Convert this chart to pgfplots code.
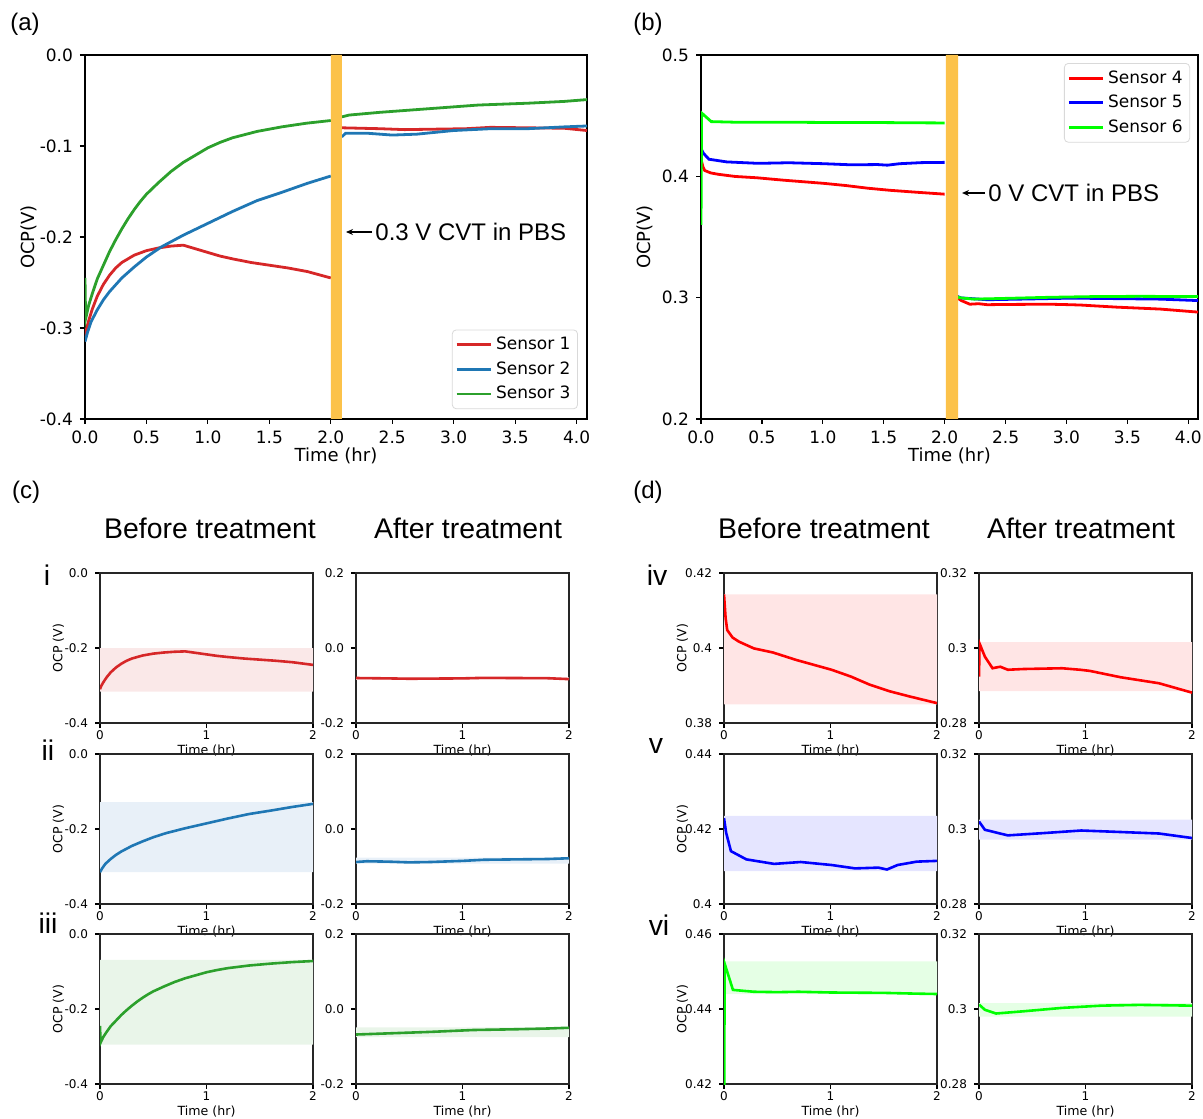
\documentclass[border=0pt]{standalone}
\usepackage{fontspec}
\setmainfont{DejaVu Sans}
\newfontfamily\arial{Liberation Sans}
\usepackage{pgfplots}
\pgfplotsset{compat=1.18}
\usetikzlibrary{arrows.meta}

\definecolor{tabred}{HTML}{D62728}
\definecolor{tabblue}{HTML}{1F77B4}
\definecolor{tabgreen}{HTML}{2CA02C}
\definecolor{pred}{HTML}{FF0000}
\definecolor{pblue}{HTML}{0000FF}
\definecolor{pgreen}{HTML}{00FF00}
\definecolor{cvt}{RGB}{252,194,74}
\definecolor{fred}{RGB}{250,232,232}
\definecolor{fblue}{RGB}{232,240,248}
\definecolor{fgreen}{RGB}{233,245,233}
\definecolor{fpred}{RGB}{255,229,229}
\definecolor{fpblue}{RGB}{229,229,255}
\definecolor{fpgreen}{RGB}{229,255,229}

\pgfplotsset{
  mpl/.style={scale only axis, anchor=north west, clip=true,
    axis line style={black, line width=0.9pt},
    tick align=outside, xtick pos=bottom, ytick pos=left,
    major tick length=2.5pt, tick style={black, line width=0.6pt},
    /pgf/number format/assume math mode=true},
  big/.style={mpl, width=251pt, height=182pt, xmin=0,
    xtick={0,0.5,1,1.5,2,2.5,3,3.5,4},
    tick label style={font=\fontsize{8.5}{10}\selectfont},
    label style={font=\fontsize{9}{11}\selectfont},
    xticklabel style={/pgf/number format/fixed, /pgf/number format/fixed zerofill, /pgf/number format/precision=1},
    yticklabel style={/pgf/number format/fixed, /pgf/number format/fixed zerofill, /pgf/number format/precision=1},
    xlabel={Time (hr)}, ylabel={OCP(V)},
    xlabel style={at={(axis description cs:0.5,-0.102)}, anchor=center},
    ylabel style={at={(axis description cs:-0.112,0.5)}, anchor=center},
    legend cell align=left,
    legend image code/.code={\draw[#1, line width=1.4pt] (0pt,0pt) -- (17pt,0pt);},
    every axis plot/.append style={line width=1.4pt}},
  sm/.style={mpl, width=106.5pt, height=75pt, xmin=0, xmax=2, xtick={0,1,2},
    axis line style={black!85, line width=0.8pt},
    tick label style={font=\fontsize{6}{7}\selectfont},
    xticklabel style={inner sep=1pt},
    label style={font=\fontsize{6.3}{7.5}\selectfont},
    xlabel={Time (hr)},
    xlabel style={at={(axis description cs:0.5,-0.185)}, anchor=center, inner sep=1pt},
    ylabel style={at={(axis description cs:-0.195,0.5)}, anchor=center},
    every axis plot/.append style={line width=1.3pt}},
  one/.style={yticklabel style={/pgf/number format/fixed, /pgf/number format/fixed zerofill, /pgf/number format/precision=1}},
  two/.style={yticklabel style={/pgf/number format/fixed, /pgf/number format/precision=2}},
}

\begin{document}
\begin{tikzpicture}
\path[use as bounding box] (0pt,0pt) rectangle (601.5pt,-559pt);

% ---------- (a)
\begin{axis}[big, at={(42.5pt,-27.5pt)}, xmax=4.085, ymin=-0.4, ymax=0,
  ytick={-0.4,-0.3,-0.2,-0.1,0},
  legend style={at={(0.982,0.027)}, anchor=south east, draw=black!15, rounded corners=2pt,
    font=\fontsize{8.5}{10}\selectfont, row sep=0.5pt, inner sep=1.5pt}]
\addplot[tabred] coordinates {(0,-0.31)(0.01,-0.302)(0.03,-0.292)(0.06,-0.279)(0.1,-0.265)(0.15,-0.252)(0.2,-0.242)(0.25,-0.234)(0.3,-0.228)(0.4,-0.220)(0.5,-0.215)(0.6,-0.212)(0.7,-0.210)(0.8,-0.209)(0.9,-0.213)(1.0,-0.217)(1.1,-0.221)(1.2,-0.224)(1.35,-0.228)(1.5,-0.231)(1.65,-0.234)(1.81,-0.238)(2.0,-0.245)};
\addlegendentry{Sensor 1}
\addplot[tabblue] coordinates {(0,-0.315)(0.02,-0.305)(0.05,-0.293)(0.1,-0.28)(0.15,-0.269)(0.2,-0.26)(0.3,-0.245)(0.4,-0.233)(0.5,-0.222)(0.62,-0.211)(0.8,-0.198)(1.0,-0.185)(1.2,-0.172)(1.4,-0.16)(1.6,-0.151)(1.81,-0.141)(2.0,-0.133)};
\addlegendentry{Sensor 2}
\addplot[tabgreen] coordinates {(0,-0.245)(0.005,-0.29)(0.03,-0.275)(0.06,-0.262)(0.1,-0.246)(0.15,-0.231)(0.2,-0.216)(0.25,-0.203)(0.3,-0.191)(0.35,-0.180)(0.4,-0.170)(0.45,-0.161)(0.5,-0.153)(0.6,-0.140)(0.7,-0.128)(0.8,-0.118)(0.9,-0.110)(1.0,-0.102)(1.1,-0.096)(1.2,-0.091)(1.4,-0.084)(1.6,-0.079)(1.8,-0.075)(2.0,-0.072)};
\addlegendentry{Sensor 3}
\addplot[tabred, forget plot] coordinates {(2.09,-0.080)(2.4,-0.081)(2.6,-0.082)(3.1,-0.081)(3.3,-0.0795)(3.6,-0.080)(3.9,-0.0805)(4.085,-0.083)};
\addplot[tabblue, forget plot] coordinates {(2.09,-0.09)(2.12,-0.086)(2.3,-0.086)(2.5,-0.088)(2.7,-0.087)(3.0,-0.083)(3.3,-0.081)(3.6,-0.081)(3.9,-0.079)(4.085,-0.078)};
\addplot[tabgreen, forget plot] coordinates {(2.09,-0.068)(2.15,-0.066)(2.4,-0.063)(2.8,-0.059)(3.2,-0.055)(3.6,-0.053)(3.9,-0.051)(4.085,-0.049)};
\addplot[fill=cvt, draw=none, forget plot] coordinates {(2.0,-0.4)(2.09,-0.4)(2.09,0)(2.0,0)(2.0,-0.4)};
\end{axis}

% ---------- (b)
\begin{axis}[big, at={(350.5pt,-27.5pt)}, width=248.5pt, xmax=4.08, ymin=0.2, ymax=0.5,
  ytick={0.2,0.3,0.4,0.5},
  legend style={at={(0.984,0.978)}, anchor=north east, draw=black!15, rounded corners=2pt,
    font=\fontsize{8.5}{10}\selectfont, row sep=0.5pt, inner sep=1.5pt}]
\addplot[pred] coordinates {(0,0.4143)(0.015,0.408)(0.03,0.4048)(0.08,0.4028)(0.14,0.4017)(0.28,0.3999)(0.46,0.3988)(0.68,0.3968)(1.01,0.3942)(1.19,0.3924)(1.37,0.3902)(1.55,0.3885)(1.74,0.3871)(2.0,0.3853)};
\addlegendentry{Sensor 4}
\addplot[pblue] coordinates {(0,0.4229)(0.02,0.419)(0.065,0.4141)(0.21,0.4119)(0.47,0.4107)(0.72,0.4112)(1.01,0.4104)(1.23,0.4095)(1.45,0.4097)(1.53,0.4092)(1.63,0.4104)(1.81,0.4113)(2.0,0.4115)};
\addlegendentry{Sensor 5}
\addplot[pgreen] coordinates {(0,0.36)(0.005,0.4522)(0.084,0.4451)(0.28,0.4446)(0.5,0.4445)(0.7,0.4446)(1.01,0.4444)(1.5,0.4443)(1.8,0.4441)(2.0,0.444)};
\addlegendentry{Sensor 6}
\addplot[pred, forget plot] coordinates {(2.08,0.2924)(2.085,0.3012)(2.135,0.2977)(2.207,0.2946)(2.24,0.2948)(2.28,0.295)(2.35,0.2942)(2.5,0.2944)(2.86,0.2946)(3.03,0.2942)(3.12,0.2939)(3.41,0.2922)(3.77,0.2906)(4.08,0.2881)};
\addplot[pblue, forget plot] coordinates {(2.08,0.302)(2.135,0.2998)(2.35,0.2983)(2.68,0.2989)(3.04,0.2996)(3.41,0.2992)(3.77,0.2988)(4.08,0.2976)};
\addplot[pgreen, forget plot] coordinates {(2.08,0.3012)(2.135,0.2998)(2.24,0.2988)(2.5,0.2994)(2.86,0.3003)(3.23,0.3009)(3.59,0.3011)(4.08,0.3009)};
\addplot[fill=cvt, draw=none, forget plot] coordinates {(2.01,0.2)(2.11,0.2)(2.11,0.5)(2.01,0.5)(2.01,0.2)};
\end{axis}

% ---------- (c) i
\begin{axis}[sm, one, at={(50pt,-286.5pt)}, ymin=-0.4, ymax=0, ytick={-0.4,-0.2,0}, ylabel={OCP (V)}]
\addplot[fill=fred, draw=none] coordinates {(0,-0.316)(2,-0.316)(2,-0.2)(0,-0.2)(0,-0.316)};
\addplot[tabred] coordinates {(0,-0.31)(0.01,-0.302)(0.03,-0.292)(0.06,-0.279)(0.1,-0.265)(0.15,-0.252)(0.2,-0.242)(0.25,-0.234)(0.3,-0.228)(0.4,-0.220)(0.5,-0.215)(0.6,-0.212)(0.7,-0.210)(0.8,-0.209)(0.9,-0.213)(1.0,-0.217)(1.1,-0.221)(1.2,-0.224)(1.35,-0.228)(1.5,-0.231)(1.65,-0.234)(1.81,-0.238)(2.0,-0.245)};
\end{axis}
\begin{axis}[sm, one, at={(178pt,-286.5pt)}, ymin=-0.2, ymax=0.2, ytick={-0.2,0,0.2}]
\addplot[fill=fred, draw=none] coordinates {(0,-0.085)(2,-0.085)(2,-0.078)(0,-0.078)(0,-0.085)};
\addplot[tabred] coordinates {(0,-0.080)(0.3,-0.081)(0.5,-0.082)(1.0,-0.081)(1.2,-0.0795)(1.5,-0.080)(1.8,-0.0805)(2.0,-0.083)};
\end{axis}
% ---------- (c) ii
\begin{axis}[sm, one, at={(50pt,-377pt)}, ymin=-0.4, ymax=0, ytick={-0.4,-0.2,0}, ylabel={OCP (V)}]
\addplot[fill=fblue, draw=none] coordinates {(0,-0.315)(2,-0.315)(2,-0.128)(0,-0.128)(0,-0.315)};
\addplot[tabblue] coordinates {(0,-0.315)(0.02,-0.305)(0.05,-0.293)(0.1,-0.28)(0.15,-0.269)(0.2,-0.26)(0.3,-0.245)(0.4,-0.233)(0.5,-0.222)(0.62,-0.211)(0.8,-0.198)(1.0,-0.185)(1.2,-0.172)(1.4,-0.16)(1.6,-0.151)(1.81,-0.141)(2.0,-0.133)};
\end{axis}
\begin{axis}[sm, one, at={(178pt,-377pt)}, ymin=-0.2, ymax=0.2, ytick={-0.2,0,0.2}]
\addplot[fill=fblue, draw=none] coordinates {(0,-0.092)(2,-0.092)(2,-0.076)(0,-0.076)(0,-0.092)};
\addplot[tabblue] coordinates {(0,-0.088)(0.1,-0.086)(0.3,-0.087)(0.5,-0.089)(0.7,-0.088)(1.0,-0.085)(1.2,-0.082)(1.5,-0.081)(1.8,-0.080)(2.0,-0.078)};
\end{axis}
% ---------- (c) iii
\begin{axis}[sm, one, at={(50pt,-467pt)}, ymin=-0.4, ymax=0, ytick={-0.4,-0.2,0}, ylabel={OCP (V)}]
\addplot[fill=fgreen, draw=none] coordinates {(0,-0.295)(2,-0.295)(2,-0.069)(0,-0.069)(0,-0.295)};
\addplot[tabgreen] coordinates {(0,-0.245)(0.005,-0.29)(0.03,-0.275)(0.06,-0.262)(0.1,-0.246)(0.15,-0.231)(0.2,-0.216)(0.25,-0.203)(0.3,-0.191)(0.35,-0.180)(0.4,-0.170)(0.45,-0.161)(0.5,-0.153)(0.6,-0.140)(0.7,-0.128)(0.8,-0.118)(0.9,-0.110)(1.0,-0.102)(1.1,-0.096)(1.2,-0.091)(1.4,-0.084)(1.6,-0.079)(1.8,-0.075)(2.0,-0.072)};
\end{axis}
\begin{axis}[sm, one, at={(178pt,-467pt)}, ymin=-0.2, ymax=0.2, ytick={-0.2,0,0.2}]
\addplot[fill=fgreen, draw=none] coordinates {(0,-0.075)(2,-0.075)(2,-0.049)(0,-0.049)(0,-0.075)};
\addplot[tabgreen] coordinates {(0,-0.068)(0.3,-0.065)(0.7,-0.061)(1.1,-0.056)(1.5,-0.054)(1.8,-0.052)(2.0,-0.050)};
\end{axis}

% ---------- (d) iv
\begin{axis}[sm, two, at={(362pt,-286.5pt)}, ymin=0.38, ymax=0.42, ytick={0.38,0.4,0.42}, ylabel={OCP (V)}]
\addplot[fill=fpred, draw=none] coordinates {(0,0.3850)(2,0.3850)(2,0.4143)(0,0.4143)(0,0.3850)};
\addplot[pred] coordinates {(0,0.4143)(0.015,0.408)(0.03,0.4048)(0.08,0.4028)(0.14,0.4017)(0.28,0.3999)(0.46,0.3988)(0.68,0.3968)(1.01,0.3942)(1.19,0.3924)(1.37,0.3902)(1.55,0.3885)(1.74,0.3871)(2.0,0.3853)};
\end{axis}
\begin{axis}[sm, two, at={(489.5pt,-286.5pt)}, ymin=0.28, ymax=0.32, ytick={0.28,0.3,0.32}]
\addplot[fill=fpred, draw=none] coordinates {(0,0.2885)(2,0.2885)(2,0.3016)(0,0.3016)(0,0.2885)};
\addplot[pred] coordinates {(0,0.2924)(0.005,0.3012)(0.055,0.2977)(0.127,0.2946)(0.16,0.2948)(0.2,0.295)(0.27,0.2942)(0.42,0.2944)(0.78,0.2946)(0.95,0.2942)(1.04,0.2939)(1.33,0.2922)(1.69,0.2906)(2.0,0.2881)};
\end{axis}
% ---------- (d) v
\begin{axis}[sm, two, at={(362pt,-377pt)}, ymin=0.4, ymax=0.44, ytick={0.4,0.42,0.44}, ylabel={OCP (V)}]
\addplot[fill=fpblue, draw=none] coordinates {(0,0.4088)(2,0.4088)(2,0.4235)(0,0.4235)(0,0.4088)};
\addplot[pblue] coordinates {(0,0.4229)(0.02,0.419)(0.065,0.4141)(0.21,0.4119)(0.47,0.4107)(0.72,0.4112)(1.01,0.4104)(1.23,0.4095)(1.45,0.4097)(1.53,0.4092)(1.63,0.4104)(1.81,0.4113)(2.0,0.4115)};
\end{axis}
\begin{axis}[sm, two, at={(489.5pt,-377pt)}, ymin=0.28, ymax=0.32, ytick={0.28,0.3,0.32}]
\addplot[fill=fpblue, draw=none] coordinates {(0,0.2972)(2,0.2972)(2,0.3025)(0,0.3025)(0,0.2972)};
\addplot[pblue] coordinates {(0,0.302)(0.055,0.2998)(0.27,0.2983)(0.6,0.2989)(0.96,0.2996)(1.33,0.2992)(1.69,0.2988)(2.0,0.2976)};
\end{axis}
% ---------- (d) vi
\begin{axis}[sm, two, at={(362pt,-467pt)}, ymin=0.42, ymax=0.46, ytick={0.42,0.44,0.46}, ylabel={OCP (V)}]
\addplot[fill=fpgreen, draw=none] coordinates {(0,0.444)(2,0.444)(2,0.4527)(0,0.4527)(0,0.444)};
\addplot[pgreen] coordinates {(0,0.36)(0.005,0.4522)(0.084,0.4451)(0.28,0.4446)(0.5,0.4445)(0.7,0.4446)(1.01,0.4444)(1.5,0.4443)(1.8,0.4441)(2.0,0.444)};
\end{axis}
\begin{axis}[sm, two, at={(489.5pt,-467pt)}, ymin=0.28, ymax=0.32, ytick={0.28,0.3,0.32}]
\addplot[fill=fpgreen, draw=none] coordinates {(0,0.298)(2,0.298)(2,0.3016)(0,0.3016)(0,0.298)};
\addplot[pgreen] coordinates {(0,0.3012)(0.055,0.2998)(0.16,0.2988)(0.42,0.2994)(0.78,0.3003)(1.15,0.3009)(1.51,0.3011)(2.0,0.3009)};
\end{axis}

% ---------- labels and annotations
\begin{scope}[every node/.style={font=\arial\fontsize{12}{14}\selectfont}]
\node at (12.5pt,-12pt) {(a)};
\node at (324pt,-12pt) {(b)};
\node at (13pt,-246pt) {(c)};
\node at (324pt,-246pt) {(d)};
\node[anchor=west, inner sep=0.5pt] at (187pt,-116pt) {0.3 V CVT in PBS};
\node[anchor=west, inner sep=0.5pt] at (493.5pt,-96.5pt) {0 V CVT in PBS};
\end{scope}
\draw[-{Stealth[length=3.5pt,width=3pt]}, line width=0.6pt] (186pt,-116pt) -- (173pt,-116pt);
\draw[-{Stealth[length=3.5pt,width=3pt]}, line width=0.6pt] (492.5pt,-96.5pt) -- (481pt,-96.5pt);
\begin{scope}[every node/.style={font=\arial\fontsize{14.2}{16}\selectfont}]
\node at (105pt,-264pt) {Before treatment};
\node at (234pt,-264pt) {After treatment};
\node at (412pt,-264pt) {Before treatment};
\node at (540.5pt,-264pt) {After treatment};
\node at (23.5pt,-287.5pt) {i};
\node at (24pt,-375pt) {ii};
\node at (24pt,-461.5pt) {iii};
\node at (328.5pt,-287.5pt) {iv};
\node at (328pt,-373pt) {v};
\node at (329.5pt,-462.5pt) {vi};
\end{scope}
\end{tikzpicture}
\end{document}
